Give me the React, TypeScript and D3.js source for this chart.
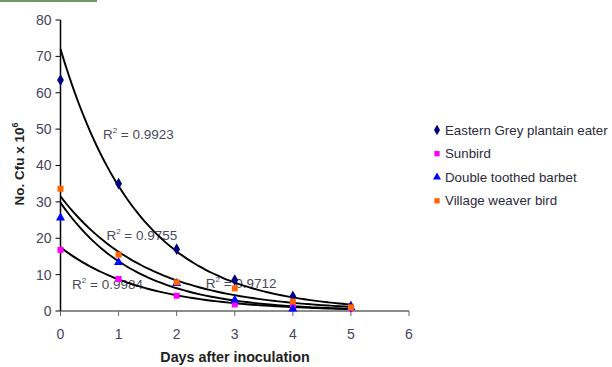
import React from 'react';
import * as d3 from 'd3';

const days = [0, 1, 2, 3, 4, 5];

const seriesNames = [
  'Eastern Grey plantain eater',
  'Sunbird',
  'Double toothed barbet',
  'Village weaver bird',
];

const easternGrey = [63.5, 35, 17, 8.5, 4, 1.2];
const sunbird = [16.8, 8.8, 4.2, 1.8, 1.2, 0.8];
const barbet = [25.6, 13.4, 7.6, 3, 0.6, 1];
const weaver = [33.6, 15.5, 7.9, 6.2, 2.6, 1];

// exponential trendline coefficients y = a * exp(-b x)
const trendA = [72, 17.5, 29.8, 31.5];
const trendB = [0.74, 0.7, 0.78, 0.66];

const rSquared = ['0.9923', '0.9984', '0.9712', '0.9755'];
const labelAt: [number, number][] = [
  [0.73, 47.4],
  [0.2, 6.0],
  [2.5, 6.2],
  [0.79, 19.6],
];

const yTicks = [0, 10, 20, 30, 40, 50, 60, 70, 80];
const xTicks = [0, 1, 2, 3, 4, 5, 6];

const colors = ['#000080', '#ff00ff', '#0000ff', '#ff6600'];
const shapes = [d3.symbolDiamond, d3.symbolSquare, d3.symbolTriangle, d3.symbolSquare];

export default function App() {
  const width = 612;
  const height = 367;
  const x = d3.scaleLinear().domain([0, 6]).range([60.5, 409]);
  const y = d3.scaleLinear().domain([0, 80]).range([311, 20]);
  const allSeries = [easternGrey, sunbird, barbet, weaver];

  const line = d3
    .line<number>()
    .x(d => x(d))
    .curve(d3.curveMonotoneX);
  const trendXs = d3.range(0, 5.0001, 0.1);

  const tickColor = '#4a4260';
  const font = 'Arial, "Liberation Sans", sans-serif';

  return (
    <div style={{ position: 'fixed', left: 0, top: 0 }}>
      <svg width={width} height={height} style={{ display: 'block', background: '#fff' }} fontFamily={font}>
        <rect x={0} y={0} width={97} height={2} fill="#6f9a62" />

        {/* y axis */}
        <line x1={x(0)} x2={x(0)} y1={y(80)} y2={y(0)} stroke="#000" strokeWidth={1.5} />
        {yTicks.map(t => (
          <g key={'y' + t}>
            <line x1={x(0) - 5} x2={x(0)} y1={y(t)} y2={y(t)} stroke="#000" />
            <text x={x(0) - 9} y={y(t)} dy="0.35em" textAnchor="end" fontSize={14} fill={tickColor}>
              {t}
            </text>
          </g>
        ))}
        {/* x axis */}
        <line x1={x(0)} x2={x(6)} y1={y(0)} y2={y(0)} stroke="#666" strokeWidth={1.5} />
        {xTicks.map(t => (
          <g key={'x' + t}>
            <line x1={x(t)} x2={x(t)} y1={y(0)} y2={y(0) + 5} stroke="#666" />
            <text x={x(t)} y={y(0) + 28} textAnchor="middle" fontSize={14} fill={tickColor}>
              {t}
            </text>
          </g>
        ))}

        <text x={235} y={362} textAnchor="middle" fontSize={14.3} fontWeight="bold" fill="#222">
          Days after inoculation
        </text>
        <text transform="translate(24,164) rotate(-90)" textAnchor="middle" fontSize={13.5} fontWeight="bold" fill="#222">
          No. Cfu x 10<tspan dy={-6} fontSize={9}>6</tspan>
        </text>

        {/* R squared labels */}
        {rSquared.map((r, i) => (
          <text key={'r' + i} x={x(labelAt[i][0])} y={y(labelAt[i][1])} fontSize={13.5} fill="#4a4a5a">
            R<tspan dy={-6} fontSize={8}>2</tspan>
            <tspan dy={6}> = {r}</tspan>
          </text>
        ))}

        {/* trendlines */}
        {trendA.map((a, i) => (
          <path
            key={'t' + i}
            d={line.y(d => y(a * Math.exp(-trendB[i] * d)))(trendXs) || ''}
            fill="none"
            stroke="#000"
            strokeWidth={1.9}
          />
        ))}

        {/* points */}
        {allSeries.map((s, i) =>
          s.map((v, j) => (
            <path
              key={'p' + i + '-' + j}
              transform={`translate(${x(days[j])},${y(v)})`}
              d={d3.symbol().type(shapes[i]).size(i === 0 ? 40 : 36)() || ''}
              fill={colors[i]}
            />
          ))
        )}

        {/* legend */}
        {seriesNames.map((n, i) => (
          <g key={'l' + i} transform={`translate(437,${130 + i * 23.6})`}>
            <path d={d3.symbol().type(shapes[i]).size(i === 0 ? 32 : 28)() || ''} fill={colors[i]} />
            <text x={8} dy="0.35em" fontSize={13.3} fill="#2a2a3a">
              {n}
            </text>
          </g>
        ))}
      </svg>
    </div>
  );
}
